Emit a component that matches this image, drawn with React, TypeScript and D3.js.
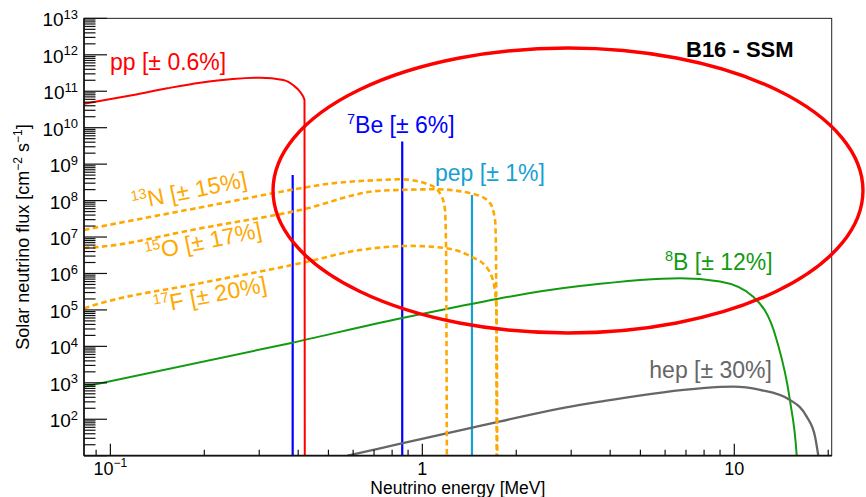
import React, { useEffect } from "react";
import * as d3 from "d3";

const WIDTH = 866;
const HEIGHT = 497;
const FONT = "'Liberation Sans', Arial, Helvetica, sans-serif";

// Axis domains: neutrino energy in MeV, flux in cm^-2 s^-1 (MeV^-1 for continua)
const energyDomain = [0.0823, 20.52];
const fluxDomain = [10, 1e13];

// pp continuum
const ppEnergy = [0.0823, 0.1185, 0.152, 0.194, 0.247, 0.302, 0.358, 0.385, 0.406, 0.419, 0.42];
const ppFlux = [4.5e10, 7.9e10, 1.2e11, 1.72e11, 2.17e11, 2.34e11, 2.04e11, 1.48e11, 9.5e10, 5.8e10, 1];

// CNO continua
const n13Energy = [0.0823, 0.0927, 0.194, 0.406, 0.494, 0.732, 0.848, 1.059, 1.154, 1.182, 1.191, 1.199];
const n13Flux = [1.56e7, 1.92e7, 6.47e7, 2.17e8, 2.85e8, 3.67e8, 3.84e8, 2.68e8, 1.28e8, 5.5e7, 5.4e6, 1];

const o15Energy = [0.0823, 0.0927, 0.194, 0.406, 0.732, 1.112, 1.494, 1.648, 1.71, 1.722, 1.732];
const o15Flux = [5.0e6, 5.4e6, 1.73e7, 5.5e7, 1.86e8, 2.04e8, 1.43e8, 8.5e7, 2.95e7, 4.4e6, 1];

const f17Energy = [0.0823, 0.0927, 0.194, 0.406, 0.631, 0.913, 1.182, 1.422, 1.613, 1.697, 1.729, 1.74];
const f17Flux = [1.11e5, 1.51e5, 5.4e5, 1.9e6, 4.4e6, 5.7e6, 5.0e6, 3.0e6, 1.41e6, 4.8e5, 1.0e5, 1];

// 8B continuum
const b8Energy = [0.0823, 0.3767, 0.862, 3.2, 6.7, 9.0, 11.5, 13.67, 15.07, 15.85, 16.1];
const b8Flux = [7.8e2, 1.22e4, 6.0e4, 4.5e5, 7.4e5, 6.0e5, 2.3e5, 1.5e4, 3.4e2, 10, 1];

// hep continuum
const hepEnergy = [0.574, 0.732, 1.422, 3.2, 3.71, 7.77, 9.93, 12.09, 15.08, 17.06, 18.15, 18.59];
const hepFlux = [10, 16, 57, 247, 304, 708, 783, 637, 338, 118, 33, 10];

// Monoenergetic lines
const be7LineEnergy = [0.384, 0.862];
const be7LineFlux = [5.0e8, 4.2e9];
const pepLineEnergy = [1.442];
const pepLineFlux = [1.43e8];

// Tick values
const yMajorExponents = [1, 2, 3, 4, 5, 6, 7, 8, 9, 10, 11, 12, 13];
const yLabelExponents = [2, 3, 4, 5, 6, 7, 8, 9, 10, 11, 12, 13];
const xMajorTicks = [0.1, 1, 10];
const xTickBase = ["10", "1", "10"];
const xTickSup = ["\u22121", "", ""];

// Highlight region around the 7Be / pep / CNO lines (centre energy, centre flux, half-extent in decades)
const focusCenterEnergy = 2.93;
const focusCenterFlux = 1.89e8;
const focusHalfDecadesE = 0.9455;
const focusHalfDecadesF = 3.909;

const PLOT = { left: 84, right: 831.7, top: 18.35, bottom: 455.7 };

const zip = (a: number[], b: number[]) => a.map((v, i) => [v, b[i]] as [number, number]);

export default function App() {
  useEffect(() => {
    document.body.style.margin = "0";
  }, []);

  const x = d3.scaleLog().domain(energyDomain).range([PLOT.left, PLOT.right]);
  const y = d3.scaleLog().domain(fluxDomain).range([PLOT.bottom, PLOT.top]);

  const line = d3
    .line<[number, number]>()
    .x((d) => x(d[0]))
    .y((d) => y(d[1]))
    .curve(d3.curveMonotoneX);

  const orange = "#ffa800";

  const spectra = [
    { pts: zip(b8Energy, b8Flux), color: "#129a12", width: 2, dash: undefined },
    { pts: zip(hepEnergy, hepFlux), color: "#666666", width: 2.3, dash: undefined },
    { pts: zip(f17Energy, f17Flux), color: orange, width: 2.6, dash: "5.5,3.5" },
    { pts: zip(o15Energy, o15Flux), color: orange, width: 2.6, dash: "5.5,3.5" },
    { pts: zip(n13Energy, n13Flux), color: orange, width: 2.6, dash: "5.5,3.5" },
    { pts: zip(ppEnergy, ppFlux), color: "#ff0000", width: 2, dash: undefined },
  ];

  const monoLines = [
    ...be7LineEnergy.map((e, i) => ({ e, f: be7LineFlux[i], color: "#0000ff" })),
    ...pepLineEnergy.map((e, i) => ({ e, f: pepLineFlux[i], color: "#17a0d3" })),
  ];

  // minor ticks
  const yMinor: number[] = [];
  for (let n = 1; n < 13; n++) for (let k = 2; k <= 9; k++) yMinor.push(k * Math.pow(10, n));
  const xMinor: number[] = [];
  for (let n = -2; n <= 1; n++)
    for (let k = 2; k <= 9; k++) {
      const v = k * Math.pow(10, n);
      if (v > energyDomain[0] && v < energyDomain[1]) xMinor.push(v);
    }

  const ecx = x(focusCenterEnergy);
  const ecy = y(focusCenterFlux);
  const erx = x(focusCenterEnergy * Math.pow(10, focusHalfDecadesE)) - ecx;
  const ery = y(focusCenterFlux / Math.pow(10, focusHalfDecadesF)) - ecy;

  const labelSize = 23;
  const supSize = 14.5;

  return (
    <svg
      width={WIDTH}
      height={HEIGHT}
      style={{ position: "absolute", left: 0, top: 0, background: "#fff" }}
      fontFamily={FONT}
    >
      <rect x={0} y={0} width={WIDTH} height={HEIGHT} fill="#fff" />
      <defs>
        <clipPath id="plotClip">
          <rect x={PLOT.left} y={PLOT.top} width={PLOT.right - PLOT.left} height={PLOT.bottom - PLOT.top} />
        </clipPath>
      </defs>

      {/* data */}
      <g clipPath="url(#plotClip)" fill="none">
        {monoLines.map((m, i) => (
          <line
            key={"m" + i}
            x1={x(m.e)}
            x2={x(m.e)}
            y1={y(m.f)}
            y2={y(fluxDomain[0]) + 5}
            stroke={m.color}
            strokeWidth={2.2}
          />
        ))}
        {spectra.map((s, i) => (
          <path
            key={"s" + i}
            d={line(s.pts) || ""}
            stroke={s.color}
            strokeWidth={s.width}
            strokeDasharray={s.dash}
          />
        ))}
      </g>

      {/* frame */}
      <rect
        x={PLOT.left}
        y={PLOT.top}
        width={PLOT.right - PLOT.left}
        height={PLOT.bottom - PLOT.top}
        fill="none"
        stroke="#222"
        strokeWidth={1}
      />
      <line x1={PLOT.left} x2={PLOT.right} y1={PLOT.bottom} y2={PLOT.bottom} stroke="#111" strokeWidth={1.8} />
      <line x1={PLOT.left} x2={PLOT.left} y1={PLOT.top} y2={PLOT.bottom} stroke="#111" strokeWidth={1.6} />

      {/* y ticks */}
      <g stroke="#111" strokeWidth={1.2}>
        {yMajorExponents.map((n) => (
          <line key={"ym" + n} x1={PLOT.left} x2={PLOT.left + 23} y1={y(Math.pow(10, n))} y2={y(Math.pow(10, n))} />
        ))}
        {yMinor.map((v, i) => (
          <line key={"yn" + i} x1={PLOT.left} x2={PLOT.left + 11.5} y1={y(v)} y2={y(v)} />
        ))}
      </g>
      <g fontSize={19} fill="#000" textAnchor="end">
        {yLabelExponents.map((n) => (
          <text key={"yl" + n} x={78} y={y(Math.pow(10, n)) + 8}>
            <tspan>10</tspan>
            <tspan fontSize={13} dy={-7.5}>
              {n}
            </tspan>
          </text>
        ))}
      </g>

      {/* x ticks */}
      <g stroke="#111" strokeWidth={1.2}>
        {xMajorTicks.map((v) => (
          <line key={"xm" + v} x1={x(v)} x2={x(v)} y1={PLOT.bottom} y2={PLOT.bottom - 12} />
        ))}
        {xMinor.map((v, i) => (
          <line key={"xn" + i} x1={x(v)} x2={x(v)} y1={PLOT.bottom} y2={PLOT.bottom - 6} />
        ))}
      </g>
      <g fontSize={18} fill="#000" textAnchor="middle">
        {xMajorTicks.map((v, i) => (
          <text key={"xl" + v} x={x(v)} y={475.3}>
            <tspan>{xTickBase[i]}</tspan>
            {xTickSup[i] && (
              <tspan fontSize={12} dy={-8}>
                {xTickSup[i]}
              </tspan>
            )}
          </text>
        ))}
      </g>

      {/* axis titles */}
      <text x={(PLOT.left + PLOT.right) / 2} y={494.3} fontSize={17.5} textAnchor="middle" fill="#000">
        Neutrino energy [MeV]
      </text>
      <text
        transform={`translate(28.5,${(PLOT.top + PLOT.bottom) / 2}) rotate(-90)`}
        fontSize={18}
        textAnchor="middle"
        fill="#000"
      >
        Solar neutrino flux [cm
        <tspan fontSize={12} dy={-7}>
          {"\u22122"}
        </tspan>
        <tspan dy={7}> s</tspan>
        <tspan fontSize={12} dy={-7}>
          {"\u22121"}
        </tspan>
        <tspan dy={7}>]</tspan>
      </text>

      {/* source labels */}
      <g fontSize={labelSize}>
        <text x={110} y={70} fill="#ff0000">
          pp [± 0.6%]
        </text>
        <text x={347} y={132.7} fill="#0000ff">
          <tspan fontSize={supSize} dy={-9}>
            7
          </tspan>
          <tspan dy={9}>Be [± 6%]</tspan>
        </text>
        <text x={435} y={180.7} fill="#17a0d3">
          pep [± 1%]
        </text>
        <text x={665} y={270} fill="#129a12">
          <tspan fontSize={supSize} dy={-9}>
            8
          </tspan>
          <tspan dy={9}>B [± 12%]</tspan>
        </text>
        <text x={649.3} y={378.3} fill="#666666">
          hep [± 30%]
        </text>
        <text transform="translate(133.5,210) rotate(-11.5)" fill={orange}>
          <tspan fontSize={supSize} dy={-9}>
            13
          </tspan>
          <tspan dy={9}>N [± 15%]</tspan>
        </text>
        <text transform="translate(147,260.8) rotate(-11.5)" fill={orange}>
          <tspan fontSize={supSize} dy={-9}>
            15
          </tspan>
          <tspan dy={9}>O [± 17%]</tspan>
        </text>
        <text transform="translate(155.5,313.5) rotate(-11)" fill={orange}>
          <tspan fontSize={supSize} dy={-9}>
            17
          </tspan>
          <tspan dy={9}>F [± 20%]</tspan>
        </text>
        <text x={686} y={56.7} fill="#000" fontWeight="bold" fontSize={22}>
          B16 - SSM
        </text>
      </g>

      {/* highlighted region */}
      <ellipse cx={ecx} cy={ecy} rx={erx} ry={ery} fill="none" stroke="#ff0000" strokeWidth={3.4} />
    </svg>
  );
}
